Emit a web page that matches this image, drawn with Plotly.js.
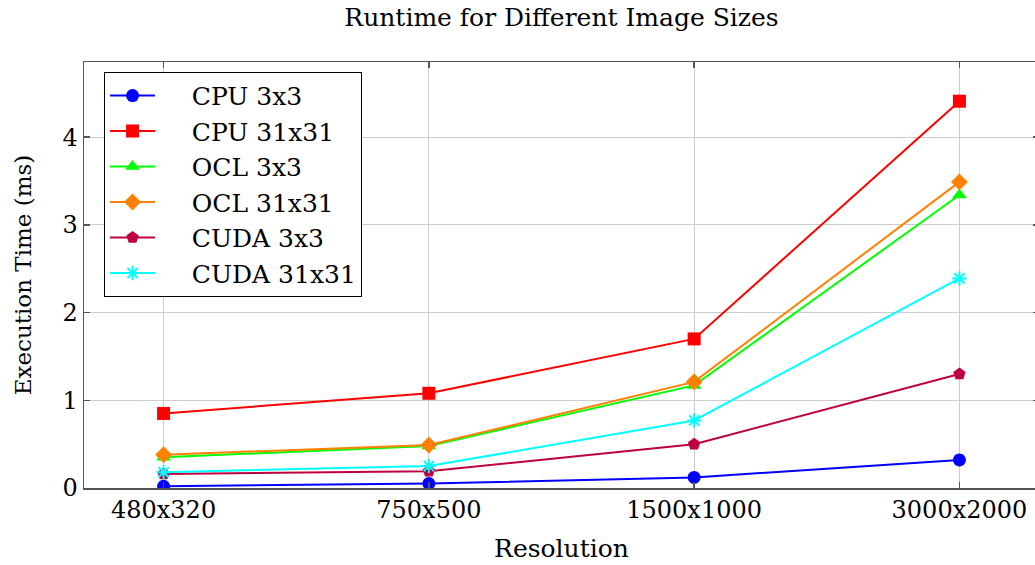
<!DOCTYPE html>
<html>
<head>
<meta charset="utf-8">
<script src="https://cdn.plot.ly/plotly-3.0.1.min.js"></script>
<style>
  html, body { margin: 0; padding: 0; overflow: hidden; background: #fff; }
  #chart { width: 1045px; height: 565px; }
</style>
</head>
<body>
<div id="chart"></div>
<script>
// Image resolutions on the x axis
const resolutions = ['480x320', '750x500', '1500x1000', '3000x2000'];

// Execution times (ms) per implementation and kernel size
const cpu3x3   = [0.02, 0.05, 0.12, 0.32];
const cpu31x31 = [0.85, 1.08, 1.70, 4.41];
const ocl3x3   = [0.35, 0.48, 1.17, 3.34];
const ocl31x31 = [0.38, 0.49, 1.21, 3.49];
const cuda3x3  = [0.16, 0.19, 0.50, 1.30];
const cuda31x31 = [0.18, 0.25, 0.77, 2.39];

const seriesNames = ['CPU 3x3', 'CPU 31x31', 'OCL 3x3', 'OCL 31x31', 'CUDA 3x3', 'CUDA 31x31'];
const seriesData = [cpu3x3, cpu31x31, ocl3x3, ocl31x31, cuda3x3, cuda31x31];
const colors = ['#0000ff', '#ff0000', '#00ff00', '#ff8000', '#bf0040', '#00ffff'];
const symbols = ['circle', 'square', 'triangle-up', 'diamond', 'pentagon', 'asterisk-open'];
const sizes = [13, 13, 13, 13, 13, 12];

const xIdx = resolutions.map((_, i) => i);

// Legend labels get a little extra gap after the line sample
const legendPad = '\u00a0\u00a0\u00a0\u00a0';

const traces = seriesData.map((vals, k) => ({
  type: 'scatter',
  mode: 'lines+markers',
  name: legendPad + seriesNames[k],
  x: xIdx,
  y: vals,
  line: { color: colors[k], width: 2 },
  marker: {
    symbol: symbols[k],
    size: sizes[k],
    color: colors[k],
    line: { color: colors[k], width: symbols[k] === 'asterisk-open' ? 2 : 0 }
  }
}));

const font = 'DejaVu Serif, serif';

const layout = {
  width: 1045,
  height: 565,
  margin: { l: 84, r: 6, t: 62, b: 77 },
  paper_bgcolor: '#ffffff',
  plot_bgcolor: '#ffffff',
  font: { family: font, color: '#000', size: 22 },
  title: {
    text: 'Runtime for Different Image Sizes',
    font: { family: font, size: 25, color: '#000' },
    x: 0.5, xref: 'paper', xanchor: 'center',
    y: 1, yref: 'container', yanchor: 'top', pad: { t: 8 }
  },
  xaxis: {
    range: [-0.3, 3.3],
    tickmode: 'array',
    tickvals: xIdx,
    ticktext: resolutions,
    tickfont: { family: font, size: 24, color: '#000' },
    ticks: 'inside',
    ticklen: 6,
    tickcolor: '#555',
    tickwidth: 1.5,
    showgrid: true,
    gridcolor: '#cccccc',
    gridwidth: 1,
    zeroline: false,
    showline: true,
    linecolor: '#555',
    linewidth: 1.5,
    mirror: 'ticks',
    title: { text: 'Resolution', font: { family: font, size: 25, color: '#000' }, standoff: 16 }
  },
  yaxis: {
    range: [0, 4.857],
    tickmode: 'array',
    tickvals: [0, 1, 2, 3, 4],
    ticktext: ['0', '1', '2', '3', '4'],
    tickfont: { family: font, size: 24, color: '#000' },
    ticks: 'inside',
    ticklen: 6,
    tickcolor: '#555',
    tickwidth: 1.5,
    showgrid: true,
    gridcolor: '#cccccc',
    gridwidth: 1,
    zeroline: false,
    showline: true,
    linecolor: '#555',
    linewidth: 1.5,
    mirror: 'ticks',
    title: { text: 'Execution Time (ms)', font: { family: font, size: 23, color: '#000' }, standoff: 24 }
  },
  legend: {
    x: 0.021, y: 0.977,
    xanchor: 'left', yanchor: 'top',
    bgcolor: '#ffffff',
    bordercolor: '#000000',
    borderwidth: 1,
    font: { family: font, size: 25, color: '#000' },
    itemwidth: 45
  },
  showlegend: true
};

Plotly.newPlot('chart', traces, layout, { displayModeBar: false, staticPlot: true });
</script>
</body>
</html>
